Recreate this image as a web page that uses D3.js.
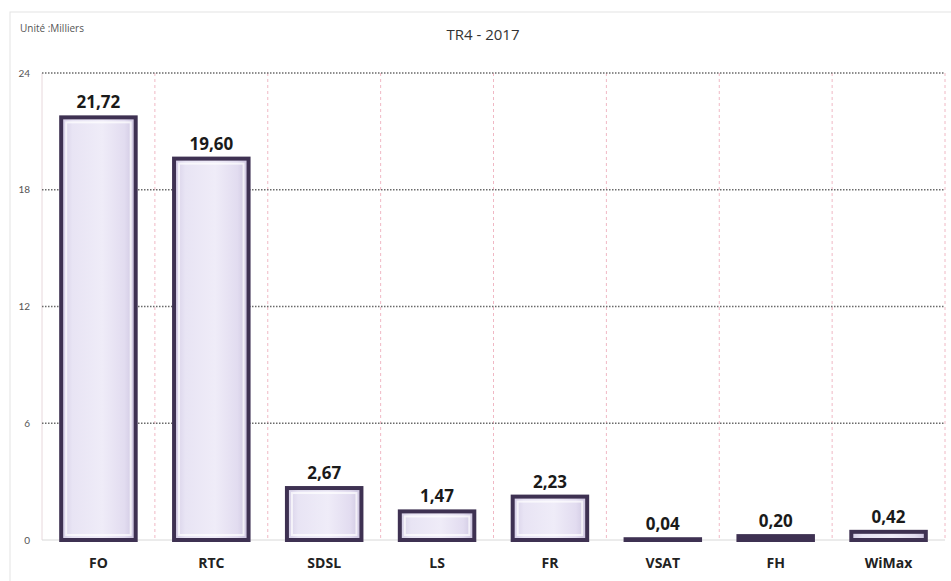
<!DOCTYPE html>
<html>
<head>
<meta charset="utf-8">
<script src="https://cdn.jsdelivr.net/npm/d3@7"></script>
<style>
  body { margin: 0; background: #fff; }
  text { font-family: "Open Sans", Lato, sans-serif; }
</style>
</head>
<body>
<div id="wrapper"></div>
<script>
const categories = ["FO", "RTC", "SDSL", "LS", "FR", "VSAT", "FH", "WiMax"]
const values = [21.72, 19.60, 2.67, 1.47, 2.23, 0.04, 0.20, 0.42]
const yTicks = [0, 6, 12, 18, 24]

let dimensions = {
  width: 951,
  height: 581,
  margin: { top: 73, right: 6, bottom: 41, left: 42 }
}
dimensions.boundedWidth = dimensions.width - dimensions.margin.left - dimensions.margin.right
dimensions.boundedHeight = dimensions.height - dimensions.margin.top - dimensions.margin.bottom

const svg = d3.select("#wrapper")
  .append("svg")
  .attr("width", dimensions.width)
  .attr("height", dimensions.height)

// outer frame
svg.append("rect")
  .attr("x", 10).attr("y", 12)
  .attr("width", 960).attr("height", 600)
  .attr("fill", "none")
  .attr("stroke", "#e4e4e4")

svg.append("text")
  .attr("x", 20).attr("y", 32)
  .text("Unité :Milliers")
  .attr("font-size", "10px")
  .attr("fill", "#555")

svg.append("text")
  .attr("x", 483).attr("y", 40)
  .attr("text-anchor", "middle")
  .text("TR4 - 2017")
  .attr("font-size", "15px")
  .attr("fill", "#333")

const defs = svg.append("defs")
const grad = defs.append("linearGradient").attr("id", "barFill")
  .attr("x1", "0").attr("x2", "1").attr("y1", "0").attr("y2", "0")
grad.append("stop").attr("offset", "0%").attr("stop-color", "#d4cde6")
grad.append("stop").attr("offset", "15%").attr("stop-color", "#e8e4f4")
grad.append("stop").attr("offset", "55%").attr("stop-color", "#efecf8")
grad.append("stop").attr("offset", "85%").attr("stop-color", "#e2dcf0")
grad.append("stop").attr("offset", "100%").attr("stop-color", "#cbc3de")

const bounds = svg.append("g")
  .attr("transform", `translate(${dimensions.margin.left},${dimensions.margin.top})`)

const xScaler = d3.scaleBand()
  .domain(categories)
  .range([0, dimensions.boundedWidth])
  .paddingInner(0.34)
  .paddingOuter(0.17)

const yScaler = d3.scaleLinear()
  .domain([0, 24])
  .range([dimensions.boundedHeight, 0])

const step = xScaler.step()

// vertical pink separators
bounds.append("g").selectAll("line")
  .data(d3.range(0, categories.length + 1))
  .join("line")
  .attr("x1", i => i * step).attr("x2", i => i * step)
  .attr("y1", 0).attr("y2", dimensions.boundedHeight)
  .attr("stroke", i => i == 0 ? "#e8d8dc" : "#f0b8c4")
  .attr("stroke-width", 1)
  .attr("stroke-dasharray", i => i == 0 ? null : "3,3")

// horizontal grid
bounds.append("g").selectAll("line")
  .data(yTicks)
  .join("line")
  .attr("x1", 0).attr("x2", dimensions.boundedWidth)
  .attr("y1", d => yScaler(d)).attr("y2", d => yScaler(d))
  .attr("stroke", d => d == 0 ? "#d8d8d8" : "#6a6a6a")
  .attr("stroke-width", d => d == 0 ? 1 : 1.5)
  .attr("stroke-dasharray", d => d == 0 ? null : "1.5,1.5")

const yAxisGen = d3.axisLeft(yScaler).tickValues(yTicks).tickSize(0).tickPadding(12)
const yAxis = bounds.append("g").call(yAxisGen)
yAxis.select(".domain").remove()
yAxis.selectAll("text").attr("font-size", "10px").attr("fill", "#555")
  .style("font-family", "Lato, sans-serif")

const xAxisGen = d3.axisBottom(xScaler).tickSize(0).tickPadding(18)
const xAxis = bounds.append("g")
  .attr("transform", `translate(0,${dimensions.boundedHeight})`)
  .call(xAxisGen)
xAxis.select(".domain").remove()
xAxis.selectAll("text").attr("font-size", "14px").attr("font-weight", "bold").attr("fill", "#222")
  .style("font-family", "'Open Sans', sans-serif")

const data = categories.map((c, i) => ({ key: c, value: values[i] }))

bounds.selectAll(".bar")
  .data(data)
  .join("rect")
  .attr("class", "bar")
  .attr("x", d => xScaler(d.key))
  .attr("y", d => yScaler(d.value))
  .attr("width", xScaler.bandwidth())
  .attr("height", d => dimensions.boundedHeight - yScaler(d.value))
  .attr("fill", "url(#barFill)")
  .attr("stroke", "#3e3152")
  .attr("stroke-width", 4)

// inner bevel highlight
bounds.selectAll(".bevel")
  .data(data.filter(d => dimensions.boundedHeight - yScaler(d.value) > 14))
  .join("rect")
  .attr("class", "bevel")
  .attr("x", d => xScaler(d.key) + 5)
  .attr("y", d => yScaler(d.value) + 5)
  .attr("width", xScaler.bandwidth() - 10)
  .attr("height", d => dimensions.boundedHeight - yScaler(d.value) - 10)
  .attr("fill", "none")
  .attr("stroke", "#ffffff")
  .attr("stroke-opacity", 0.7)
  .attr("stroke-width", 2)

bounds.selectAll(".label")
  .data(data)
  .join("text")
  .attr("class", "label")
  .attr("x", d => xScaler(d.key) + xScaler.bandwidth() / 2)
  .attr("y", d => yScaler(d.value) - 9)
  .attr("text-anchor", "middle")
  .attr("font-size", "17px")
  .attr("font-weight", "bold")
  .attr("fill", "#1a1a1a")
  .text(d => d.value.toFixed(2).replace(".", ","))
</script>
</body>
</html>
